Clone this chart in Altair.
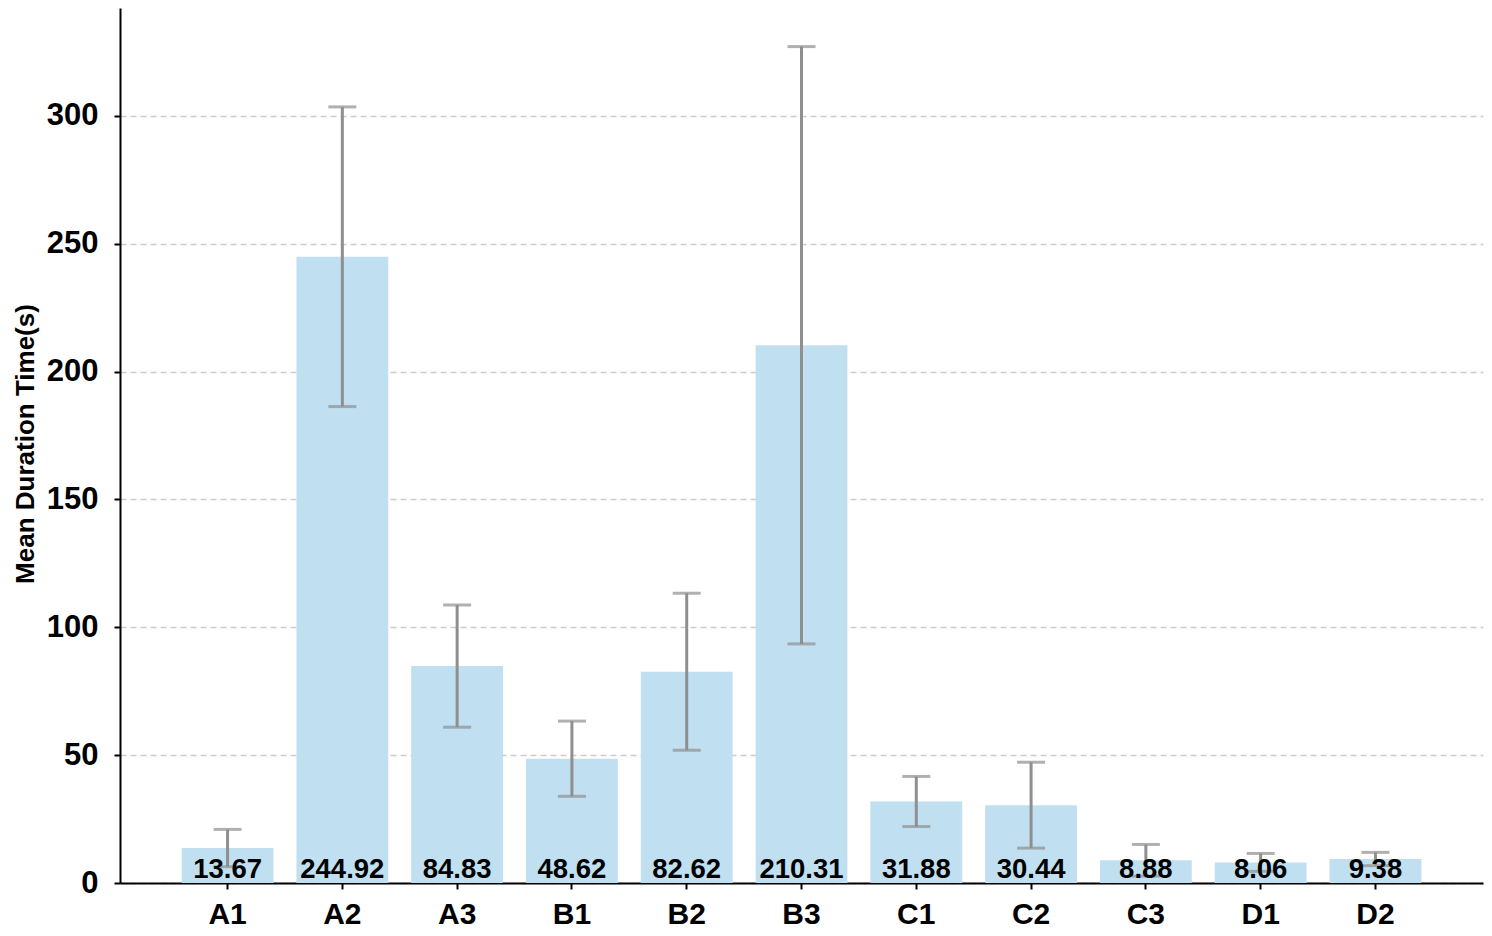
import altair as alt
import pandas as pd

categories = ["A1", "A2", "A3", "B1", "B2", "B3", "C1", "C2", "C3", "D1", "D2"]
means = [13.67, 244.92, 84.83, 48.62, 82.62, 210.31, 31.88, 30.44, 8.88, 8.06, 9.38]
errors = [7.3, 58.6, 23.9, 14.7, 30.7, 116.8, 9.8, 16.8, 6.2, 3.5, 2.6]
labels = [f"{m:.2f}" for m in means]

df = pd.DataFrame({"cat": categories, "mean": means, "err": errors, "label": labels})
df["lo"] = df["mean"] - df["err"]
df["hi"] = df["mean"] + df["err"]

FONT = "Liberation Sans"

x = alt.X("cat:N", sort=categories, title=None,
          scale=alt.Scale(paddingInner=0.2, paddingOuter=0.537),
          axis=alt.Axis(labelAngle=0, labelFont=FONT, labelFontSize=30, labelFontWeight="bold",
                        labelColor="black", labelPadding=10, tickColor="black", tickSize=6,
                        tickWidth=2, domainColor="black", domainWidth=2, grid=False))
y_scale = alt.Scale(domain=[0, 342.2], nice=False, zero=True)
y = alt.Y("mean:Q", scale=y_scale, title="Mean Duration Time(s)",
          axis=alt.Axis(values=[0, 50, 100, 150, 200, 250, 300], labelFont=FONT, labelFontSize=31,
                        labelFontWeight="bold", labelColor="black", labelPadding=16,
                        tickColor="black", tickSize=6, tickWidth=2, domainColor="black",
                        domainWidth=2, grid=True, gridColor="#cccccc", gridDash=[6, 4],
                        gridWidth=1.5, titleFont=FONT, titleFontSize=26, titleFontWeight="bold",
                        titleColor="black", titleX=-87, titleY=435.5, titleAlign="center",
                        titleBaseline="alphabetic", titleAngle=270))

base = alt.Chart(df)

bars = base.mark_bar(color="#c0e0f1").encode(x=x, y=y)

err_rule = base.mark_rule(color="#8f8f8f", strokeWidth=3).encode(
    x=alt.X("cat:N", sort=categories), y=alt.Y("lo:Q", scale=y_scale), y2="hi:Q")

cap_hi = base.mark_tick(color="#8f8f8f", thickness=3, size=28).encode(
    x=alt.X("cat:N", sort=categories), y=alt.Y("hi:Q", scale=y_scale))
cap_lo = base.mark_tick(color="#8f8f8f", thickness=3, size=28).encode(
    x=alt.X("cat:N", sort=categories), y=alt.Y("lo:Q", scale=y_scale))

text = base.mark_text(font=FONT, fontSize=27.5, fontWeight="bold", color="black",
                      baseline="alphabetic", dy=-5).encode(
    x=alt.X("cat:N", sort=categories), y=alt.Y("zero:Q", scale=y_scale), text="label:N"
).transform_calculate(zero="0")

chart = alt.layer(bars, err_rule, cap_hi, cap_lo, text).properties(
    width=1363, height=875,
    padding={"left": 112, "top": 0, "right": 1, "bottom": 50},
    autosize=alt.AutoSizeParams(type="none"),
).configure_view(stroke=None)

chart.save("out.html", embed_options={"renderer": "svg", "actions": False})
